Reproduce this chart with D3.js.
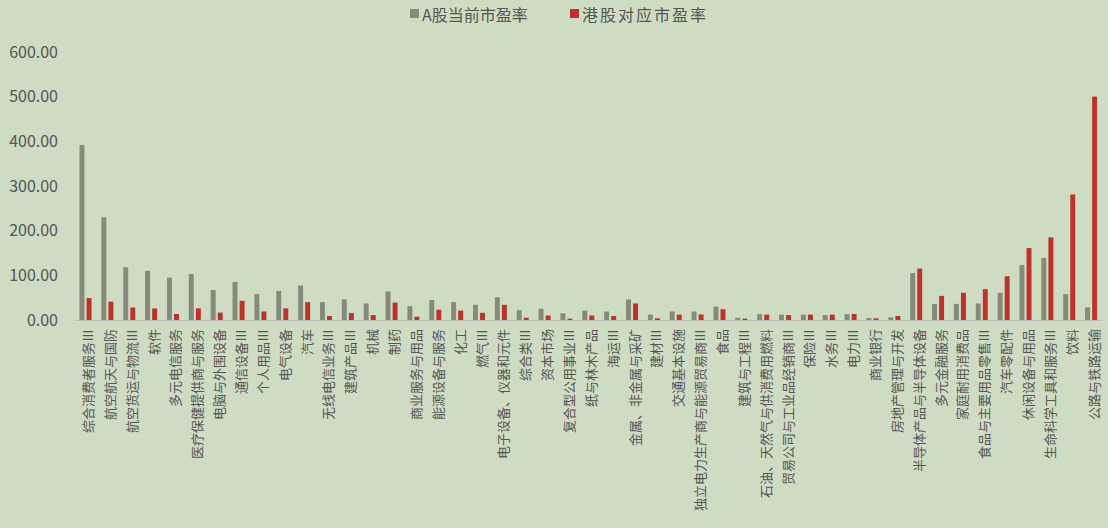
<!DOCTYPE html>
<html>
<head>
<meta charset="utf-8">
<script src="https://cdn.jsdelivr.net/npm/d3@7"></script>
<style>
  body { margin: 0; background: #cddcc2; }
  svg { display: block; }
</style>
</head>
<body>
<svg id="chart" width="1108" height="528"></svg>
<script>
// 行业名称
const categories = [
  "综合消费者服务Ⅲ", "航空航天与国防", "航空货运与物流Ⅲ", "软件", "多元电信服务",
  "医疗保健提供商与服务", "电脑与外围设备", "通信设备Ⅲ", "个人用品Ⅲ", "电气设备",
  "汽车", "无线电信业务Ⅲ", "建筑产品Ⅲ", "机械", "制药",
  "商业服务与用品", "能源设备与服务", "化工", "燃气Ⅲ", "电子设备、仪器和元件",
  "综合类Ⅲ", "资本市场", "复合型公用事业Ⅲ", "纸与林木产品", "海运Ⅲ",
  "金属、非金属与采矿", "建材Ⅲ", "交通基本设施", "独立电力生产商与能源贸易商Ⅲ", "食品",
  "建筑与工程Ⅲ", "石油、天然气与供消费用燃料", "贸易公司与工业品经销商Ⅲ", "保险Ⅲ", "水务Ⅲ",
  "电力Ⅲ", "商业银行", "房地产管理与开发", "半导体产品与半导体设备", "多元金融服务",
  "家庭耐用消费品", "食品与主要用品零售Ⅲ", "汽车零配件", "休闲设备与用品", "生命科学工具和服务Ⅲ",
  "饮料", "公路与铁路运输"
];

const aShare = [
  392, 230, 118, 110, 95, 103, 67, 85, 58, 65,
  77, 40, 46, 37, 64, 31, 45, 40, 34, 51,
  22, 25, 15, 21, 19, 46, 12, 19, 19, 30,
  5, 13, 12, 12, 11, 13, 4.5, 6, 105, 36,
  36, 37, 61, 123, 139, 58, 28
];

const hShare = [
  49, 41, 28, 26, 13.5, 26, 16.5, 43, 19, 26,
  40, 9, 15.5, 11, 39, 7.5, 23, 21, 16, 34,
  5, 10, 3, 10, 9, 37, 3.7, 12, 12.5, 24,
  3, 12, 11, 12, 12, 13.5, 3.7, 9, 115, 54,
  61, 69, 98, 161, 185, 281, 500
];

const seriesNames = ["A股当前市盈率", "港股对应市盈率"];
const yTicks = [0, 100, 200, 300, 400, 500, 600];

const colors = { grey: "#858b7b", red: "#c1302b", text: "#555555" };
const font = "'Noto Sans CJK SC', 'Noto Sans', sans-serif";

const svg = d3.select("#chart");
const x = d3.scaleBand().domain(categories).range([74.6, 1102]).paddingInner(0);
const xSub = d3.scaleBand().domain(seriesNames).range([-6, 6]).paddingInner(0.3);
const y = d3.scaleLinear().domain([0, 600]).range([320, 52]);

const rows = categories.map((c, i) => ({ cat: c, values: [aShare[i], hShare[i]] }));

// y axis labels only, no line
const yAxis = svg.append("g")
  .attr("transform", "translate(58,0)")
  .call(d3.axisLeft(y).tickValues(yTicks).tickFormat(d3.format(".2f")).tickSize(0).tickPadding(0));
yAxis.select(".domain").remove();
yAxis.selectAll("text")
  .attr("fill", colors.text)
  .style("font-family", font)
  .style("font-size", "16px");

// bars
const groups = svg.append("g")
  .selectAll("g")
  .data(rows)
  .join("g")
  .attr("transform", d => `translate(${x(d.cat) + x.bandwidth() / 2},0)`);

groups.selectAll("rect")
  .data(d => d.values.map((v, j) => ({ name: seriesNames[j], v })))
  .join("rect")
  .attr("x", d => xSub(d.name))
  .attr("width", xSub.bandwidth())
  .attr("y", d => y(d.v))
  .attr("height", d => y(0) - y(d.v))
  .attr("fill", d => d.name === seriesNames[0] ? colors.grey : colors.red);

// x axis line + rotated labels
const xAxis = svg.append("g")
  .attr("transform", `translate(0,${y(0)})`)
  .call(d3.axisBottom(x).tickSize(0).tickPadding(0));
xAxis.select(".domain").attr("stroke", "#b9bdb3").attr("stroke-width", 1.2);
xAxis.selectAll("text")
  .attr("fill", colors.text)
  .style("font-family", font)
  .style("font-size", "13px")
  .attr("text-anchor", "end")
  .attr("dy", null)
  .attr("dominant-baseline", "central")
  .attr("transform", "translate(2,9) rotate(-90)");

// legend
const legend = svg.append("g").attr("transform", "translate(0,14)");
const legendItems = [
  { name: seriesNames[0], color: colors.grey, x: 410, spacing: 0 },
  { name: seriesNames[1], color: colors.red, x: 570, spacing: 2 }
];
legendItems.forEach(it => {
  legend.append("rect")
    .attr("x", it.x).attr("y", -5)
    .attr("width", 9).attr("height", 9)
    .attr("fill", it.color);
  legend.append("text")
    .attr("x", it.x + 12).attr("y", 0)
    .attr("dominant-baseline", "central")
    .attr("fill", colors.text)
    .style("font-family", font)
    .style("font-size", "16px")
    .style("letter-spacing", it.spacing + "px")
    .text(it.name);
});
</script>
</body>
</html>
